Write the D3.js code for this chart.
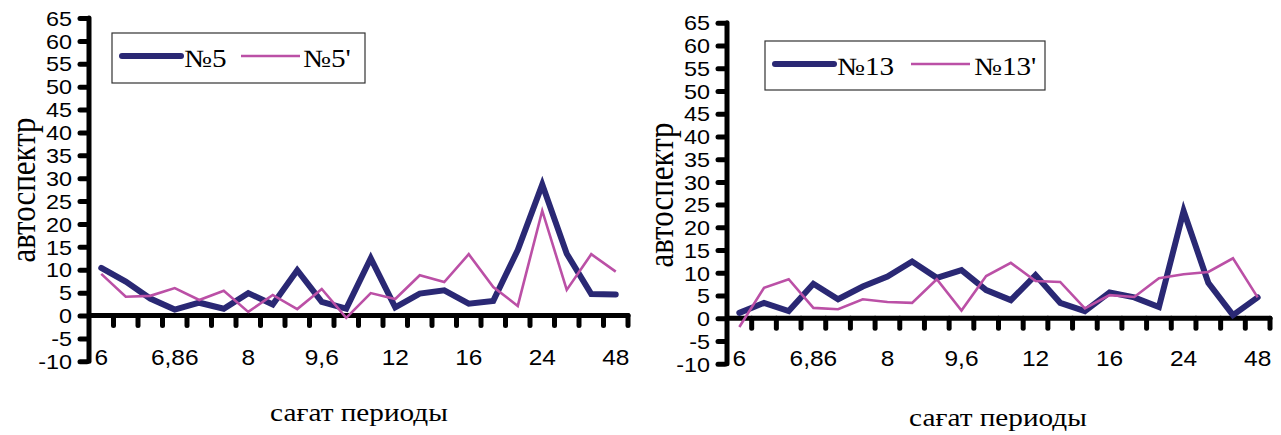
<!DOCTYPE html>
<html><head><meta charset="utf-8">
<script src="https://cdn.jsdelivr.net/npm/d3@7"></script>
<style>
html,body{margin:0;padding:0;background:#fff;}
svg{display:block;}
</style></head>
<body>
<svg id="chart" width="1281" height="435"></svg>
<script>
// ---- data ----
const categories = d3.range(22);
const tickLabels = ["6","","","6,86","","","8","","","9,6","","","12","","","16","","","24","","","48"];
const yTicks = [-10,-5,0,5,10,15,20,25,30,35,40,45,50,55,60,65];

const series5  = [10.4,7.4,3.7,1.3,2.8,1.5,4.9,2.4,9.9,3.0,1.5,12.5,1.8,4.8,5.5,2.6,3.2,14.3,28.6,13.5,4.7,4.6];
const series5p = [9.1,4.1,4.3,6.0,3.4,5.4,0.8,4.5,1.4,5.8,-0.5,4.9,3.6,8.8,7.3,13.4,6.2,2.1,22.9,5.6,13.4,9.6];
const series13  = [1.2,3.4,1.6,7.6,4.2,7.0,9.2,12.5,8.9,10.6,6.2,4.0,9.5,3.4,1.6,5.7,4.6,2.5,23.6,7.8,0.7,4.6];
const series13p = [-1.9,6.7,8.6,2.3,2.0,4.2,3.6,3.4,8.6,1.7,9.3,12.2,8.2,8.0,2.2,5.1,4.7,8.8,9.7,10.2,13.2,4.6];

const names = [["№5","№5'"],["№13","№13'"]];
const yTitle = "автоспектр";
const xTitle = "сағат периоды";

const DARK = "#2a2874", PINK = "#bb50a6";
const SX = 1.17; // horizontal stretch of the original figure
const SERIF = "'Liberation Serif','DejaVu Serif','Times New Roman',serif";
const SANS = "'Liberation Sans', Arial, sans-serif";

const svg = d3.select("#chart");

function panel(cfg){
  const g = svg.append("g");
  const x = d3.scaleBand().domain(categories).range([cfg.x0, cfg.x1]).padding(0);
  const y = d3.scaleLinear().domain([-10,65]).range([cfg.yBottom, cfg.yTop]);

  // y axis
  const yAxis = d3.axisLeft(y).tickValues(yTicks).tickSize(9).tickPadding(0)
    .tickFormat(d => String(d));
  const ya = g.append("g").attr("transform",`translate(${cfg.x0},0)`).call(yAxis);
  ya.select(".domain").remove();
  ya.selectAll(".tick line").attr("stroke","#000").attr("stroke-width",5).attr("stroke-linecap","round").attr("x1",-2);
  ya.selectAll(".tick text")
    .attr("font-family",SANS).attr("font-size",20).attr("fill","#000")
    .attr("x",0).attr("dy","0.36em")
    .attr("transform",`translate(-17,0) scale(${SX},1)`);
  g.append("line").attr("x1",cfg.x0).attr("x2",cfg.x0).attr("y1",y(65)).attr("y2",y(-10))
    .attr("stroke","#000").attr("stroke-width",5).attr("stroke-linecap","round");

  // x axis
  const bounds = categories.map(c => x(c) + x.bandwidth());
  g.selectAll(".xt").data(bounds).enter().append("line")
    .attr("x1",d=>d).attr("x2",d=>d).attr("y1",y(0)).attr("y2",y(0)+10)
    .attr("stroke","#000").attr("stroke-width",5).attr("stroke-linecap","round");
  g.append("line").attr("x1",cfg.x0).attr("x2",cfg.x1).attr("y1",y(0)).attr("y2",y(0))
    .attr("stroke","#000").attr("stroke-width",5).attr("stroke-linecap","round");
  g.selectAll(".xl").data(categories.filter(c=>tickLabels[c]!=="")).enter().append("text")
    .attr("transform",c=>`translate(${x(c)+x.bandwidth()/2},${cfg.xLabelY}) scale(${SX*0.95},1)`)
    .attr("text-anchor","middle")
    .attr("font-family",SANS).attr("font-size",22).attr("fill","#000")
    .text(c=>tickLabels[c]);

  // lines
  const line = d3.line().x((d,i)=>x(categories[i])+x.bandwidth()/2).y(d=>y(d));
  g.append("path").datum(cfg.a).attr("d",line).attr("fill","none").attr("stroke",DARK)
    .attr("stroke-width",6).attr("stroke-linejoin","miter").attr("stroke-linecap","round");
  g.append("path").datum(cfg.b).attr("d",line).attr("fill","none").attr("stroke",PINK)
    .attr("stroke-width",2.6).attr("stroke-linejoin","miter");

  // legend
  const L = cfg.legend;
  g.append("rect").attr("x",L.x).attr("y",L.y).attr("width",L.w).attr("height",L.h)
    .attr("fill","#fff").attr("stroke","#333").attr("stroke-width",1.2);
  g.append("line").attr("x1",L.l1[0]).attr("x2",L.l1[1]).attr("y1",L.ly).attr("y2",L.ly)
    .attr("stroke",DARK).attr("stroke-width",6).attr("stroke-linecap","round");
  g.append("line").attr("x1",L.l2[0]).attr("x2",L.l2[1]).attr("y1",L.ly).attr("y2",L.ly)
    .attr("stroke",PINK).attr("stroke-width",2.6);
  [[L.t1,cfg.names[0]],[L.t2,cfg.names[1]]].forEach(([tx,t])=>{
    g.append("text").attr("transform",`translate(${tx},${L.ly+11}) scale(${SX},1)`)
      .attr("font-family",SERIF).attr("font-size",25).attr("fill","#000")
      .text(t);
  });

  // titles
  g.append("text").attr("transform",`translate(${cfg.yt[0]},${cfg.yt[1]}) rotate(-90) scale(1,${SX})`)
    .attr("text-anchor","middle").attr("dy","0.35em")
    .attr("font-family",SERIF).attr("font-size",31).attr("fill","#000")
    .text(yTitle);
  g.append("text").attr("transform",`translate(${cfg.xt[0]},${cfg.xt[1]}) scale(${SX},1)`)
    .attr("text-anchor","middle")
    .attr("font-family",SERIF).attr("font-size",25).attr("fill","#000")
    .text(xTitle);
}

panel({x0:89,x1:628,yTop:18,yBottom:361.3,xLabelY:365,a:series5,b:series5p,names:names[0],
  legend:{x:112,y:33,w:253,h:50,ly:56,l1:[122,181],l2:[241,300],t1:184,t2:303},
  yt:[22,190], xt:[359,421]});
panel({x0:727,x1:1270,yTop:22.7,yBottom:363.8,xLabelY:366,a:series13,b:series13p,names:names[1],
  legend:{x:765,y:41,w:280,h:49,ly:64,l1:[775,834],l2:[911,970],t1:837,t2:974},
  yt:[660,195], xt:[998,426]});
</script>
</body></html>
